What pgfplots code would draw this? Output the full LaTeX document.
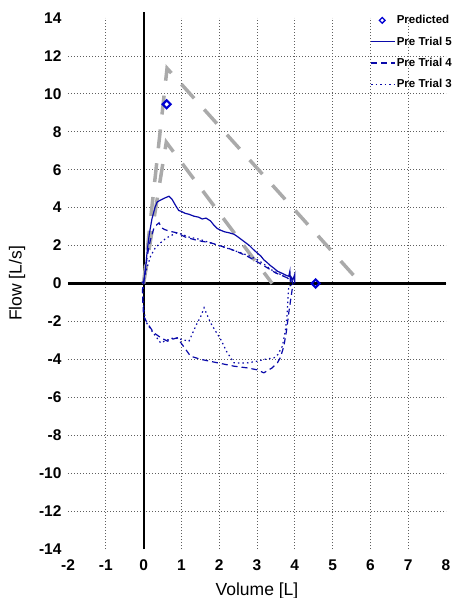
\documentclass[border=0pt]{standalone}
\usepackage{pgfplots}
\pgfplotsset{compat=1.18}
\usepackage{fontspec}
\setmainfont{Liberation Sans}
\definecolor{trialblue}{RGB}{10,10,170}
\definecolor{predblue}{RGB}{0,0,210}
\definecolor{predgray}{RGB}{170,170,170}
\definecolor{gridgray}{RGB}{95,95,95}
\pgfplotsset{
  longline/.style={legend image code/.code={\draw[##1] (0pt,0pt) -- (24pt,0pt);}},
  diamleg/.style={legend image code/.code={\draw[predblue, line width=1.3pt] plot[mark=square, mark size=2pt, mark options={rotate=45}] coordinates {(11pt,0pt)};}},
}
\begin{document}
\begin{tikzpicture}
\begin{axis}[
  scale only axis,
  width=378pt, height=531pt,
  xmin=-2, xmax=8, ymin=-14, ymax=14,
  axis line style={draw=none},
  xtick={-2,...,8}, ytick={-14,-12,...,14},
  major tick length=0pt,
  extra x ticks={-1,1,2,3,4,5,6,7},
  extra x tick labels={},
  extra x tick style={grid=major},
  extra y ticks={-12,-10,...,12},
  extra y tick labels={},
  extra y tick style={grid=major},
  major grid style={gridgray, dash pattern=on 0.9pt off 2.1pt, line width=0.7pt},
  /pgf/number format/assume math mode=true,
  ticklabel style={font=\bfseries\fontsize{15.5}{15.5}\selectfont},
  xticklabel style={yshift=-7pt},
  yticklabel style={xshift=-3pt},
  xlabel={Volume [L]}, ylabel={Flow [L/s]},
  label style={font=\fontsize{17.5}{18}\selectfont},
  xlabel style={yshift=-5pt},
  ylabel style={yshift=7pt},
  clip=false,
  legend cell align=left,
  legend style={draw=none, fill=none, at={(axis cs:6.0,14.2)}, anchor=north west,
    font=\bfseries\fontsize{11.5}{12}\selectfont, inner sep=0pt,
    row sep=9.5pt, nodes={inner sep=1pt}},
]
% axes through origin
\addplot[forget plot, black, line width=2.2pt] coordinates {(-2,0) (8,0)};
\addplot[forget plot, black, line width=2.2pt] coordinates {(0,-14) (0,14.3)};
% predicted envelopes
\addplot[forget plot, predgray, line width=3.5pt, dash pattern=on 19pt off 15pt]
  coordinates {(0,0) (0.62,11.35) (5.75,0)};
\addplot[forget plot, predgray, line width=3.5pt, dash pattern=on 19pt off 15pt]
  coordinates {(0,0) (0.6,7.45) (3.4,0)};
% predicted markers
\addplot[only marks, mark=square, mark size=2.8pt, predblue, mark options={rotate=45, line width=2.2pt}, diamleg]
  coordinates {(0.61,9.45) (4.55,0)};
\addlegendentry{Predicted}
% Pre Trial 5
\addplot[trialblue, line width=1.2pt, solid, longline]
  coordinates {(-0.05,0.1) (0,0) (0.05,0.8) (0.1,1.8) (0.15,2.6) (0.22,3.4) (0.3,4.0) (0.36,4.3) (0.45,4.4) (0.55,4.5) (0.67,4.6) (0.75,4.45) (0.85,4.1) (0.93,3.85) (1.0,3.8) (1.1,3.7) (1.2,3.65) (1.33,3.55) (1.45,3.5) (1.55,3.4) (1.65,3.45) (1.77,3.3) (1.85,3.1) (1.95,2.9) (2.05,2.8) (2.15,2.72) (2.25,2.68) (2.39,2.6) (2.5,2.45) (2.6,2.3) (2.7,2.15) (2.8,2.0) (2.9,1.8) (3.0,1.62) (3.1,1.45) (3.18,1.25) (3.27,1.1) (3.35,0.95) (3.45,0.8) (3.54,0.65) (3.65,0.55) (3.75,0.45) (3.84,0.38) (3.87,0.65) (3.88,0.1) (3.9,0.35) (3.95,0.2) (4.0,0.5) (4.0,0.0)};
\addlegendentry{Pre Trial 5}
% Pre Trial 4
\addplot[trialblue, line width=1.2pt, dash pattern=on 6pt off 4pt, longline]
  coordinates {(0,0) (0.05,0.7) (0.1,1.5) (0.18,2.3) (0.27,2.9) (0.35,3.1) (0.41,3.2) (0.47,2.95) (0.55,2.85) (0.7,2.75) (0.89,2.67) (1.1,2.45) (1.33,2.32) (1.55,2.22) (1.77,2.15) (2.0,2.0) (2.21,1.88) (2.45,1.7) (2.74,1.44) (3.0,1.15) (3.27,0.83) (3.5,0.55) (3.8,0.3) (3.92,0.2) (3.95,0)
  (3.93,-0.32) (3.88,-1.0) (3.84,-1.55) (3.78,-2.5) (3.71,-3.31) (3.62,-3.9) (3.54,-4.18) (3.4,-4.45) (3.18,-4.71) (3.0,-4.55) (2.74,-4.45) (2.39,-4.36) (2.0,-4.2) (1.51,-4.0) (1.24,-3.83) (1.05,-3.3) (0.89,-2.86) (0.75,-2.95) (0.63,-3.04) (0.45,-2.85) (0.27,-2.6) (0.1,-2.1) (0,-1.72) (-0.02,-1.0) (-0.03,-0.32) (0,0)};
\addlegendentry{Pre Trial 4}
% Pre Trial 3
\addplot[trialblue, line width=1.2pt, dash pattern=on 1.5pt off 3pt, longline]
  coordinates {(0,0) (0.05,0.5) (0.1,0.9) (0.185,1.44) (0.3,1.85) (0.45,2.15) (0.6,2.4) (0.75,2.55) (0.89,2.67) (1.0,2.6) (1.2,2.45) (1.5,2.32) (1.75,2.15) (2.04,1.97) (2.3,1.8) (2.57,1.62) (2.8,1.45) (3.0,1.27) (3.2,1.0) (3.36,0.74) (3.6,0.5) (3.8,0.3) (3.9,0.1) (3.9,-0.1)
  (3.84,-0.14) (3.82,-0.8) (3.80,-1.55) (3.75,-2.5) (3.67,-3.31) (3.55,-3.75) (3.45,-3.92) (3.2,-4.0) (3.0,-4.1) (2.7,-4.2) (2.39,-4.18) (2.2,-3.6) (2.04,-2.95) (1.9,-2.5) (1.77,-2.07) (1.6,-1.28) (1.5,-1.8) (1.42,-2.07) (1.3,-2.6) (1.2,-3.04) (1.0,-2.95) (0.8,-2.86) (0.6,-3.0) (0.45,-3.13) (0.25,-2.6) (0.05,-1.99) (0,-1.2) (-0.02,-0.5) (0,0)};
\addlegendentry{Pre Trial 3}
\end{axis}
\pgfresetboundingbox
\useasboundingbox ([xshift=-68pt,yshift=-49pt]current axis.south west) rectangle ([xshift=6pt,yshift=18pt]current axis.north east);
\end{tikzpicture}
\end{document}
